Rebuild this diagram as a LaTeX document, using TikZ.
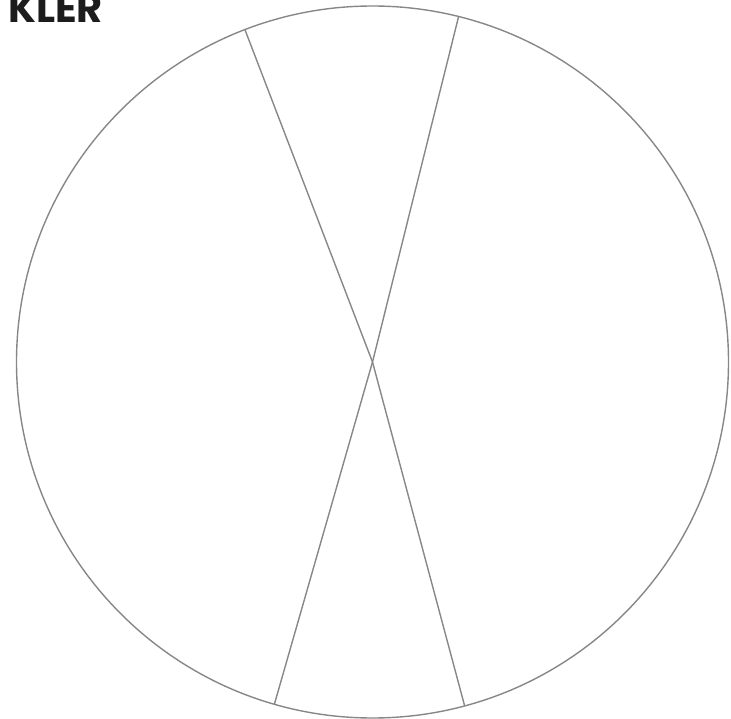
\documentclass[tikz,border=0pt]{standalone}
\usepackage{fontspec}
\newfontfamily\headfont{Poppins}
\usetikzlibrary{positioning}
\definecolor{PieLine}{RGB}{135, 135, 135}
\definecolor{HeadInk}{RGB}{28, 28, 28}

\begin{document}
\begin{tikzpicture}[
  x=1pt, y=-1pt,
  every node/.style={inner sep=0pt, outer sep=0pt},
  pie/.style={draw=PieLine, line width=1.4pt, circle, minimum size=712pt},
  wedge/.style={draw=PieLine, line width=1.4pt},
  head/.style={font=\headfont\bfseries\fontsize{40}{40}\selectfont,
               text=HeadInk, anchor=base east}
]
  \useasboundingbox (0,0) rectangle (731,719);

  %% Title, cut off by the page edge
  \node[head] (title) at (103,22.5) {KLER};

  %% Pie outline
  \node[pie] (chart) at (372.5,362) {};

  %% Wedge edges
  \draw[wedge] (chart.center) -- (chart.111);
  \draw[wedge] (chart.center) -- (chart.76);
  \draw[wedge] (chart.center) -- (chart.254.5);
  \draw[wedge] (chart.center) -- (chart.285.5);
\end{tikzpicture}
\end{document}
